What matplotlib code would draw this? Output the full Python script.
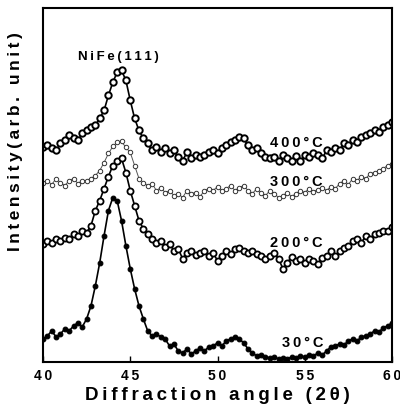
import numpy as np
import matplotlib
matplotlib.use("Agg")
import matplotlib.pyplot as plt

plt.rcParams['font.family'] = ['Liberation Sans', 'DejaVu Sans']
plt.rcParams['font.weight'] = 'bold'

TS = '\u2009'  # thin space for letter tracking

def track(s):
    return TS.join(list(s))

# scan angles (2-theta, degrees)
two_theta = np.linspace(40, 60, 81)

int_400 = [214, 216, 213, 211, 218, 221, 226, 223, 221, 228,
           231, 234, 236, 243, 251, 266, 279, 289, 291, 281,
           261, 243, 231, 223, 218, 211, 214, 209, 213, 208,
           211, 204, 201, 209, 203, 206, 204, 206, 209, 211,
           208, 213, 216, 219, 221, 224, 223, 216, 211, 213,
           208, 204, 203, 204, 201, 206, 203, 201, 205, 201,
           206, 204, 208, 206, 203, 211, 209, 213, 211, 218,
           216, 221, 219, 224, 226, 228, 231, 229, 234, 236,
           239]

int_300 = [179, 181, 177, 183, 179, 176, 181, 183, 178, 181,
           181, 183, 186, 191, 199, 208, 215, 219, 220, 214,
           209, 196, 183, 179, 176, 178, 171, 174, 169, 171,
           166, 168, 164, 171, 168, 169, 165, 171, 173, 171,
           175, 171, 173, 176, 171, 174, 176, 171, 168, 173,
           169, 166, 171, 168, 164, 166, 169, 165, 168, 171,
           169, 173, 170, 172, 174, 171, 175, 173, 178, 181,
           177, 183, 181, 185, 183, 188, 189, 191, 193, 196,
           198]

int_200 = [118, 121, 119, 123, 121, 124, 123, 128, 126, 131,
           129, 136, 151, 161, 173, 185, 196, 201, 203, 189,
           171, 156, 141, 133, 128, 123, 119, 121, 115, 118,
           111, 113, 103, 109, 111, 107, 109, 111, 106, 109,
           101, 106, 111, 108, 113, 114, 111, 109, 111, 108,
           106, 103, 106, 109, 103, 93, 99, 105, 101, 103,
           99, 103, 101, 98, 104, 106, 111, 106, 111, 114,
           116, 121, 123, 119, 126, 123, 128, 129, 131, 131,
           135]

int_30 = [23, 26, 31, 25, 28, 33, 31, 36, 39, 35,
          43, 56, 76, 99, 126, 151, 164, 161, 141, 116,
          93, 73, 56, 43, 31, 26, 28, 25, 23, 16,
          18, 11, 9, 13, 8, 11, 14, 11, 15, 16,
          19, 16, 21, 23, 25, 23, 19, 13, 9, 6,
          7, 5, 4, 5, 3, 4, 3, 5, 4, 6,
          5, 7, 6, 9, 7, 11, 15, 16, 18, 17,
          21, 23, 21, 25, 26, 28, 31, 30, 34, 36,
          39]

temp_labels = ['400°C', '300°C', '200°C', '30°C']
label_y = [218, 180, 119, 19]
label_x = 56.05
peak_label = 'NiFe(111)'
peak_pos = (44.30, 304)

xticks = [40, 45, 50, 55, 60]

fig = plt.figure(figsize=(4.0, 4.07), dpi=100)
ax = fig.add_axes([0.1075, 0.1106, 0.8725, 0.8694])

ax.plot(two_theta, int_400, '-', color='black', lw=1.2, marker='o', ms=4.6,
        mfc='white', mec='black', mew=1.4)
ax.plot(two_theta, int_300, '-', color='#555555', lw=0.7, marker='o', ms=3.2,
        mfc='white', mec='#333333', mew=0.7)
ax.plot(two_theta, int_200, '-', color='black', lw=1.2, marker='o', ms=4.4,
        mfc='white', mec='black', mew=1.3)
ax.plot(two_theta, int_30, '-', color='black', lw=1.2, marker='o', ms=3.4,
        mfc='black', mec='black', mew=0.8)

for lab, yy in zip(temp_labels, label_y):
    ax.text(label_x, yy, track(lab), ha='right', va='center',
            fontsize=10.5, fontweight='bold')
ax.text(peak_pos[0], peak_pos[1], track(peak_label), ha='center', va='center',
        fontsize=9.5, fontweight='bold')

ax.set_xlim(40, 60)
ax.set_ylim(0, 353)
ax.set_xticks(xticks)
ax.set_xticklabels([track(str(t)) for t in xticks], fontsize=10, fontweight='bold')
ax.set_yticks([])
ax.tick_params(axis='x', direction='in', length=4, width=1.0, pad=5)
for sp in ax.spines.values():
    sp.set_linewidth(1.5)
    sp.set_color('black')

fig.text(0.5425, 0.029, track('Diffraction angle (2θ)'), ha='center', va='center',
         fontsize=13.5, fontweight='bold')
fig.text(0.04, 1 - 142 / 407, track('Intensity(arb. unit)'), ha='center', va='center',
         rotation=90, fontsize=12.5, fontweight='bold')

fig.savefig('out.png', dpi=100)
